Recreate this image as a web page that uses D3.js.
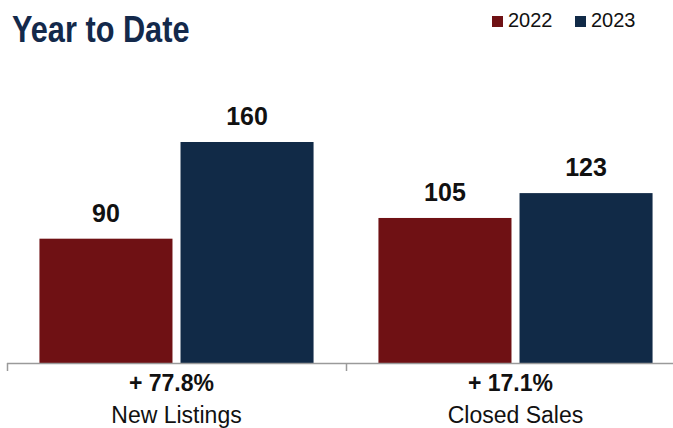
<!DOCTYPE html>
<html>
<head>
<meta charset="utf-8">
<script src="https://cdn.jsdelivr.net/npm/d3@7"></script>
<style>
  body { margin: 0; background: #fff; }
  svg { display: block; font-family: "Liberation Sans", Arial, sans-serif; }
</style>
</head>
<body>
<div id="chart"></div>
<script>
// data
var categories = ["New Listings", "Closed Sales"];
var years = ["2022", "2023"];
var values2022 = [90, 105];
var values2023 = [160, 123];
var changes = ["+ 77.8%", "+ 17.1%"];

var colors = ["#6f1114", "#112a47"];

var width = 673, height = 428;
var baseline = 363;

var svg = d3.select("#chart").append("svg")
    .attr("width", width)
    .attr("height", height);

// title - no condensed font installed, so squeeze it horizontally
svg.append("text")
    .attr("transform", "translate(12,42) scale(0.83,1)")
    .attr("fill", "#13294b")
    .style("font-weight", "bold")
    .style("font-size", "37px")
    .text("Year to Date");

// legend
var legend = svg.append("g").attr("class", "legend");
var legendX = [492, 575];
years.forEach(function(y, i) {
    var g = legend.append("g").attr("transform", "translate(" + legendX[i] + ",0)");
    g.append("rect")
        .attr("x", 0).attr("y", 16)
        .attr("width", 11).attr("height", 11)
        .attr("fill", colors[i]);
    g.append("text")
        .attr("x", 16).attr("y", 27)
        .style("font-size", "20px")
        .attr("fill", "#111")
        .text(y);
});

var rows = categories.map(function(c, i) {
    return { cat: c, change: changes[i], vals: [values2022[i], values2023[i]] };
});

var x0 = d3.scaleBand()
    .domain(categories)
    .range([7, 685])
    .paddingInner(0)
    .paddingOuter(0);

var x1 = d3.scaleBand()
    .domain(years)
    .range([0, x0.bandwidth()])
    .paddingInner(0.057)
    .paddingOuter(0.23);

var y = d3.scaleLinear()
    .domain([0, 160])
    .range([baseline, 142]);

var groups = svg.append("g").selectAll("g")
    .data(rows)
    .enter().append("g")
    .attr("transform", function(d) { return "translate(" + x0(d.cat) + ",0)"; });

var bars = groups.selectAll("g.bar")
    .data(function(d) { return d.vals.map(function(v, i) { return { year: years[i], value: v, i: i }; }); })
    .enter().append("g").attr("class", "bar");

bars.append("rect")
    .attr("x", function(d) { return x1(d.year); })
    .attr("y", function(d) { return y(d.value); })
    .attr("width", x1.bandwidth())
    .attr("height", function(d) { return baseline - y(d.value); })
    .attr("fill", function(d) { return colors[d.i]; });

bars.append("text")
    .attr("x", function(d) { return x1(d.year) + x1.bandwidth() / 2; })
    .attr("y", function(d) { return y(d.value) - 17; })
    .attr("text-anchor", "middle")
    .style("font-weight", "bold")
    .style("font-size", "25px")
    .attr("fill", "#111")
    .text(function(d) { return d.value; });

// axis
var axis = svg.append("g").attr("class", "axis");
axis.append("line")
    .attr("x1", 7).attr("x2", width)
    .attr("y1", baseline + 0.5).attr("y2", baseline + 0.5)
    .attr("stroke", "#9a9a9a").attr("stroke-width", 1.5);
axis.selectAll("line.tick")
    .data(categories)
    .enter().append("line")
    .attr("class", "tick")
    .attr("x1", function(d) { return x0(d) + 0.5; })
    .attr("x2", function(d) { return x0(d) + 0.5; })
    .attr("y1", baseline).attr("y2", baseline + 8)
    .attr("stroke", "#9a9a9a").attr("stroke-width", 1.5);

groups.append("text")
    .attr("x", x0.bandwidth() / 2 - 5)
    .attr("y", 391)
    .attr("text-anchor", "middle")
    .style("font-weight", "bold")
    .style("font-size", "23px")
    .attr("fill", "#111")
    .text(function(d) { return d.change; });

groups.append("text")
    .attr("x", x0.bandwidth() / 2)
    .attr("y", 423)
    .attr("text-anchor", "middle")
    .style("font-size", "23px")
    .attr("fill", "#111")
    .text(function(d) { return d.cat; });
</script>
</body>
</html>
